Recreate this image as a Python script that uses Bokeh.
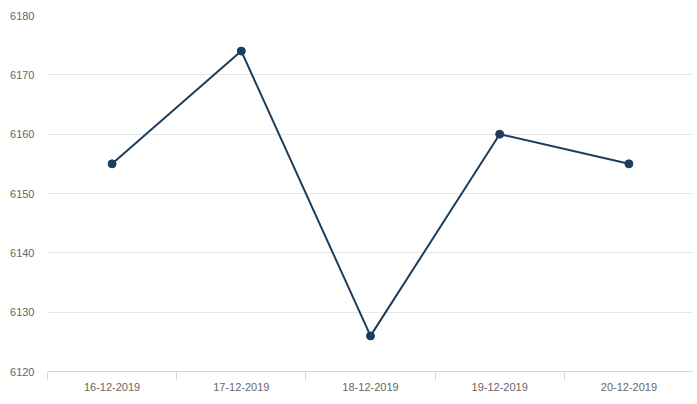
from bokeh.plotting import figure
from bokeh.models import Range1d, FixedTicker, ColumnDataSource
from bokeh.embed import file_html
from bokeh.resources import INLINE

dates = ["16-12-2019", "17-12-2019", "18-12-2019", "19-12-2019", "20-12-2019"]
values = [6155, 6174, 6126, 6160, 6155]
y_ticks = [6120, 6130, 6140, 6150, 6160, 6170, 6180]

xs = [i + 0.5 for i in range(len(dates))]
src = ColumnDataSource(dict(x=xs, y=values, d=dates))

p = figure(width=693, height=400, output_backend="svg", toolbar_location=None,
           x_range=Range1d(0, len(dates)), y_range=Range1d(y_ticks[0], y_ticks[-1]),
           min_border_left=47, min_border_right=0, min_border_top=15, min_border_bottom=29)
p.outline_line_color = None
p.background_fill_color = "white"
p.border_fill_color = "white"

line_color = "#1d3d5c"
p.line("x", "y", source=src, line_color=line_color, line_width=2)
p.scatter("x", "y", source=src, size=8, fill_color=line_color, line_color=line_color)

# x axis: labels at category centres, tick marks at category boundaries
p.xaxis.ticker = FixedTicker(ticks=xs, minor_ticks=list(range(len(dates) + 1)))
p.xaxis.major_label_overrides = {x: d for x, d in zip(xs, dates)}
p.xaxis.major_tick_line_color = None
p.xaxis.major_tick_in = 0
p.xaxis.major_tick_out = 0
p.xaxis.minor_tick_line_color = "#ccd6eb"
p.xaxis.minor_tick_in = 0
p.xaxis.minor_tick_out = 9
p.xaxis.axis_line_color = "#ccd6eb"
p.xaxis.major_label_standoff = 2
p.xaxis.major_label_text_color = "#666666"
p.xaxis.major_label_text_font = "Liberation Sans"
p.xaxis.major_label_text_font_size = "11px"
p.xgrid.grid_line_color = None

p.yaxis.ticker = FixedTicker(ticks=y_ticks)
p.yaxis.axis_line_color = None
p.yaxis.major_tick_line_color = None
p.yaxis.minor_tick_line_color = None
p.yaxis.major_tick_in = 0
p.yaxis.major_tick_out = 0
p.yaxis.major_label_standoff = 13
p.yaxis.major_label_text_color = "#666666"
p.yaxis.major_label_text_font = "Liberation Sans"
p.yaxis.major_label_text_font_size = "11px"
p.ygrid.ticker = FixedTicker(ticks=y_ticks)
p.ygrid.grid_line_color = "#e6e6e6"
p.ygrid.grid_line_width = 1

open("out.html", "w").write(file_html(p, INLINE))
